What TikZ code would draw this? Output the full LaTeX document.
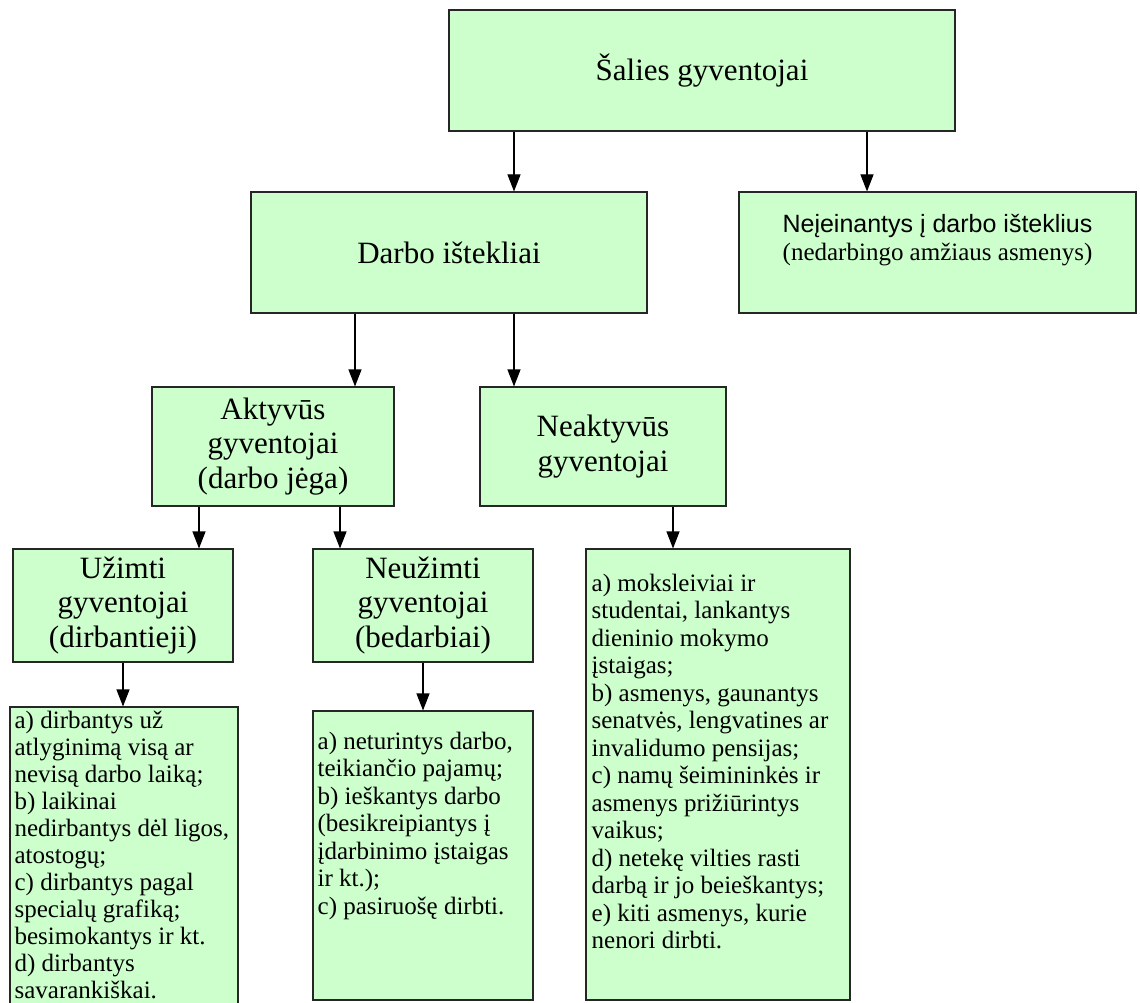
\documentclass[tikz,border=0pt]{standalone}
\usepackage{fontspec}
\setmainfont{Liberation Serif}
\newfontfamily\arialfont{Liberation Sans}
\usetikzlibrary{arrows.meta,positioning,calc}
\definecolor{boxgreen}{HTML}{CCFFCC}

\begin{document}
\begin{tikzpicture}[
    x=1pt, y=-1pt,
    box/.style={rectangle, draw=black!85, line width=1.1pt, fill=boxgreen, align=center, inner sep=0pt, font=\fontsize{31}{34.8}\selectfont},
    listbox/.style={rectangle, draw=black!85, line width=1.1pt, fill=boxgreen, inner sep=0pt},
    listtext/.style={anchor=north west, align=left, inner sep=0pt, font=\fontsize{25}{27.5}\selectfont},
    arrow/.style={-{Triangle[width=13pt,length=17pt]}, line width=1.1pt}
]
\clip (0,0) rectangle (1140,1003);

% Top level
\node[box, minimum width=506pt, minimum height=121pt] (sal) at (702,70.5) {Šalies gyventojai};

% Second level
\node[box, minimum width=396pt, minimum height=121pt] (darbo) at (449,252.5) {Darbo ištekliai};
\node[box, minimum width=397pt, minimum height=121pt, font=\fontsize{25}{28}\selectfont] (neie) at (937.5,252.5) {
    {\arialfont Neįeinantys į darbo išteklius}\\
    (nedarbingo amžiaus asmenys)\\[2pt]
    \mbox{}
};

% Third level
\node[box, minimum width=242pt, minimum height=119pt] (akt) at (273,446.5) {Aktyvūs\\gyventojai\\(darbo jėga)};
\node[box, minimum width=246pt, minimum height=119pt] (neakt) at (603,446.5) {Neaktyvūs\\gyventojai};

% Fourth level
\node[box, minimum width=220pt, minimum height=113pt] (uzi) at (123,605.5) {Užimti\\gyventojai\\(dirbantieji)};
\node[box, minimum width=220pt, minimum height=113pt] (neuz) at (423,605.5) {Neužimti\\gyventojai\\(bedarbiai)};

% Lists
\node[listbox, minimum width=228pt, minimum height=306pt] (uzilist) at (124,860) {};
\node[listbox, minimum width=220pt, minimum height=289pt] (neuzlist) at (423,855.5) {};
\node[listbox, minimum width=264pt, minimum height=451pt] (neaktlist) at (718,774.5) {};

\node[listtext, font=\fontsize{25}{27.05}\selectfont] (uzitext) at ($(uzilist.north west)+(5,4)$) {
    a) dirbantys už\\
    atlyginimą visą ar\\
    nevisą darbo laiką;\\
    b) laikinai\\
    nedirbantys dėl ligos,\\
    atostogų;\\
    c) dirbantys pagal\\
    specialų grafiką;\\
    besimokantys ir kt.\\
    d) dirbantys\\
    savarankiškai.
};
\node[listtext] (neuztext) at ($(neuzlist.north west)+(5,21)$) {
    a) neturintys darbo,\\
    teikiančio pajamų;\\
    b) ieškantys darbo\\
    (besikreipiantys į\\
    įdarbinimo įstaigas\\
    ir kt.);\\
    c) pasiruošę dirbti.
};
\node[listtext] (neakttext) at ($(neaktlist.north west)+(6,25)$) {
    a) moksleiviai ir\\
    studentai, lankantys\\
    dieninio mokymo\\
    įstaigas;\\
    b) asmenys, gaunantys\\
    senatvės, lengvatines ar\\
    invalidumo pensijas;\\
    c) namų šeimininkės ir\\
    asmenys prižiūrintys\\
    vaikus;\\
    d) netekę vilties rasti\\
    darbą ir jo beieškantys;\\
    e) kiti asmenys, kurie\\
    nenori dirbti.
};

% Arrows
\draw[arrow] ($(sal.south)+(-188,0)$) -- ($(darbo.north)+(65,0)$);
\draw[arrow] ($(sal.south)+(165,0)$) -- ($(neie.north)+(-70.5,0)$);
\draw[arrow] ($(darbo.south)+(-94,0)$) -- ($(akt.north)+(82,0)$);
\draw[arrow] ($(darbo.south)+(65,0)$) -- ($(neakt.north)+(-89,0)$);
\draw[arrow] ($(akt.south)+(-74,0)$) -- ($(uzi.north)+(76,0)$);
\draw[arrow] ($(akt.south)+(67,0)$) -- ($(neuz.north)+(-83,0)$);
\draw[arrow] ($(neakt.south)+(70,0)$) -- ($(neaktlist.north)+(-45,0)$);
\draw[arrow] (uzi.south) -- (uzi.south |- uzilist.north);
\draw[arrow] (neuz.south) -- (neuz.south |- neuzlist.north);

\end{tikzpicture}
\end{document}
